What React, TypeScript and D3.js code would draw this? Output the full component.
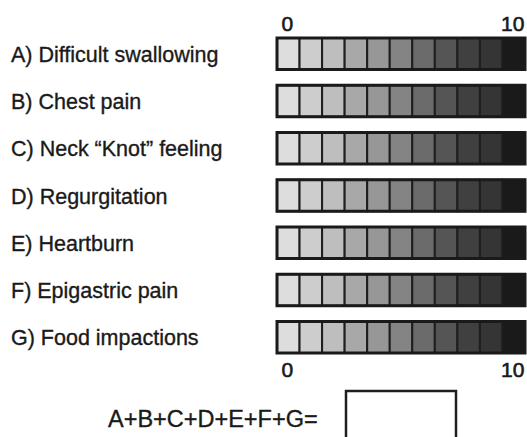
import React, { useEffect, useRef } from 'react';
import * as d3 from 'd3';

// symptom rows of the questionnaire
const symptoms = [
    'A) Difficult swallowing',
    'B) Chest pain',
    'C) Neck \u201cKnot\u201d feeling',
    'D) Regurgitation',
    'E) Heartburn',
    'F) Epigastric pain',
    'G) Food impactions',
];

// severity scale 0..10, one grey step per score
const scores = d3.range(0, 11);
const scoreShades = [
    '#dddddd', '#cdcdcd', '#bebebe', '#a8a8a8', '#979797', '#848484',
    '#6b6b6b', '#555555', '#404040', '#353535', '#1a1a1a',
];
const tickValues = [0, 10];
const sumLabel = 'A+B+C+D+E+F+G=';

const width = 527;
const height = 437;
const font = 'Liberation Sans, Arial, sans-serif';

const App: React.FC = () => {
    const topAxisRef = useRef<SVGGElement>(null);
    const bottomAxisRef = useRef<SVGGElement>(null);

    const x = d3.scaleBand<number>()
        .domain(scores)
        .range([277, 525])
        .padding(0);

    const y = d3.scaleBand<string>()
        .domain(symptoms)
        .range([38, 353])
        .paddingInner(1 / 3)
        .paddingOuter(0);

    useEffect(() => {
        const styleAxis = (g: d3.Selection<SVGGElement, unknown, null, undefined>) => {
            g.select('.domain').remove();
            g.selectAll('text')
                .attr('font-family', font)
                .attr('font-size', 21)
                .attr('fill', '#1a1a1a')
                .attr('stroke', '#1a1a1a')
                .attr('stroke-width', 0.6);
        };

        if (topAxisRef.current) {
            const g = d3.select(topAxisRef.current);
            g.call(d3.axisTop(x).tickValues(tickValues).tickSize(0).tickPadding(0));
            styleAxis(g);
        }
        if (bottomAxisRef.current) {
            const g = d3.select(bottomAxisRef.current);
            g.call(d3.axisBottom(x).tickValues(tickValues).tickSize(0).tickPadding(6));
            styleAxis(g);
        }
    }, []);

    const bw = y.bandwidth();

    return (
        <svg
            width={width}
            height={height}
            style={{ position: 'absolute', left: 0, top: 0, background: '#fff' }}
        >
            <g ref={topAxisRef} transform="translate(-1, 31)" />
            <g ref={bottomAxisRef} transform="translate(-1, 356)" />

            {symptoms.map(s => {
                const top = y(s) as number;
                return (
                    <g key={s}>
                        <text
                            x={11}
                            y={top + bw / 2 + 8}
                            fontFamily={font}
                            fontSize={21.5}
                            fill="#1a1a1a"
                            stroke="#1a1a1a"
                            strokeWidth={0.35}
                        >
                            {s}
                        </text>
                        {scores.map((v, i) => (
                            <rect
                                key={v}
                                x={x(v)}
                                y={top}
                                width={x.bandwidth()}
                                height={bw}
                                fill={scoreShades[i]}
                                stroke="#1e1e1e"
                                strokeWidth={2}
                            />
                        ))}
                        <rect
                            x={x.range()[0]}
                            y={top}
                            width={x.range()[1] - x.range()[0]}
                            height={bw}
                            fill="none"
                            stroke="#1a1a1a"
                            strokeWidth={3}
                        />
                    </g>
                );
            })}

            <text
                x={108}
                y={427}
                fontFamily={font}
                fontSize={23.5}
                fill="#1a1a1a"
                stroke="#1a1a1a"
                strokeWidth={0.35}
            >
                {sumLabel}
            </text>
            <rect x={346} y={391} width={110} height={60} fill="#fff" stroke="#1e1e1e" strokeWidth={2.5} />
        </svg>
    );
};

export default App;
